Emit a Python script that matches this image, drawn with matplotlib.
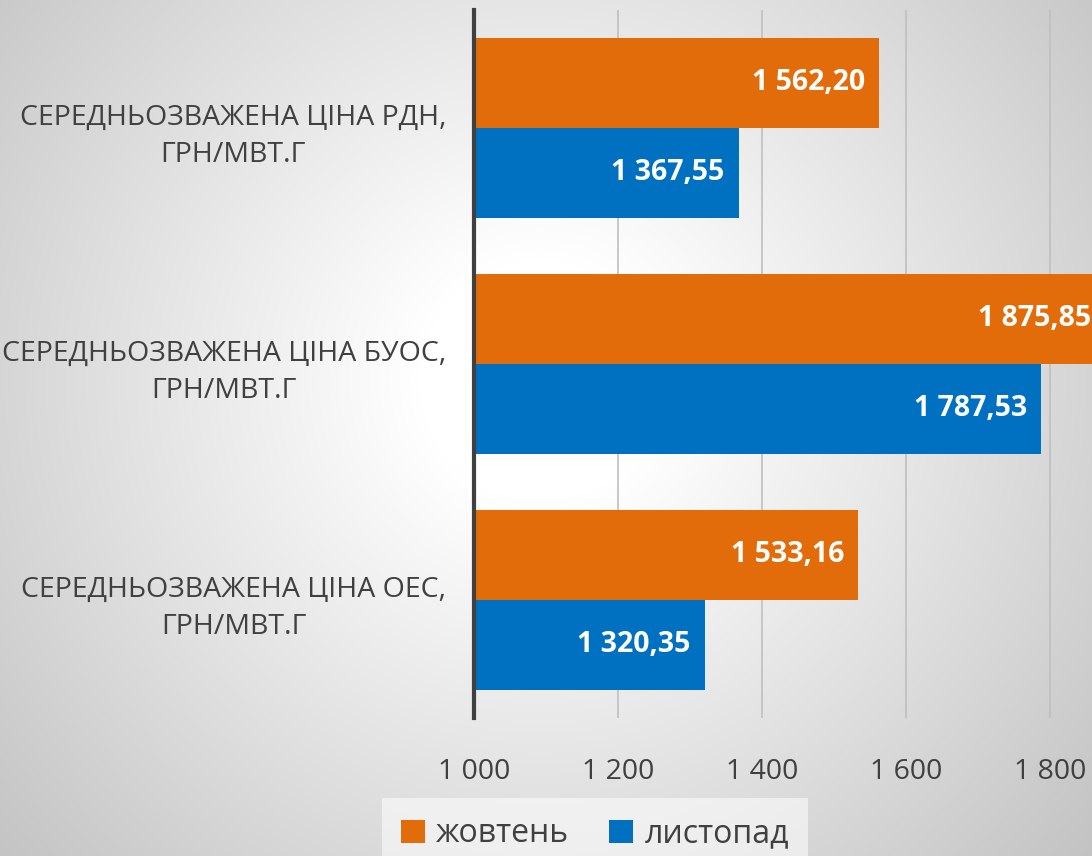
import numpy as np
import matplotlib
matplotlib.use("Agg")
import matplotlib.pyplot as plt
from matplotlib.patches import Patch

plt.rcParams['font.family'] = ['Open Sans', 'DejaVu Sans']

categories = ["СЕРЕДНЬОЗВАЖЕНА ЦІНА РДН,\nГРН/МВТ.Г",
              "СЕРЕДНЬОЗВАЖЕНА ЦІНА БУОС,\nГРН/МВТ.Г",
              "СЕРЕДНЬОЗВАЖЕНА ЦІНА ОЕС,\nГРН/МВТ.Г"]
series_names = ["жовтень", "листопад"]
october = [1562.20, 1875.85, 1533.16]
november = [1367.55, 1787.53, 1320.35]
x_ticks = [1000, 1200, 1400, 1600, 1800]
x_tick_labels = ["1 000", "1 200", "1 400", "1 600", "1 800"]

c_oct = "#E36C0A"
c_nov = "#0070C0"
txt = "#404040"

W, H = 1092, 856
fig = plt.figure(figsize=(W/100, H/100), dpi=100)

# radial gradient background
bg = fig.add_axes([0, 0, 1, 1], zorder=-10)
yy, xx = np.mgrid[0:H, 0:W]
cx, cy = 540, 380
r = np.sqrt((xx - cx) ** 2 + (yy - cy) ** 2)
t = np.clip((r - 120) / 620, 0, 1)
val = 1.0 - t * (1.0 - 0.76)
img = np.dstack([val, val, val])
bg.imshow(img, extent=[0, W, H, 0], aspect='auto', interpolation='bilinear')
bg.set_axis_off()

ax_left = 474 / W
ax_w = 720 / W
ax_bottom = (H - 718) / H
ax_h = 708 / H
ax = fig.add_axes([ax_left, ax_bottom, ax_w, ax_h])
ax.set_facecolor('none')

y = np.arange(len(categories))
bh = 90 / 236
ax.barh(y - bh / 2, [v - 1000 for v in october], left=1000, height=bh, color=c_oct, zorder=3)
ax.barh(y + bh / 2, [v - 1000 for v in november], left=1000, height=bh, color=c_nov, zorder=3)

def fmt(v):
    s = f"{v:,.2f}"
    return s.replace(",", " ").replace(".", ",")

for i in range(len(categories)):
    for v, off in ((october[i], -bh / 2), (november[i], bh / 2)):
        ax.annotate(fmt(v), xy=(v, y[i] + off), xytext=(-10, 0), textcoords='offset points',
                    ha='right', va='center', color='white', fontsize=20.5, fontweight='bold', zorder=4)

ax.set_xlim(1000, 2000)
ax.set_ylim(2.5, -0.5)
ax.set_xticks(x_ticks)
ax.set_xticklabels(x_tick_labels)
ax.set_yticks(y)
ax.set_yticklabels(categories, multialignment='center', linespacing=1.45)
ax.tick_params(axis='both', length=0, labelsize=20.5, labelcolor=txt)
ax.tick_params(axis='x', pad=29)
ax.tick_params(axis='y', pad=20)
ax.xaxis.grid(True, color='#BFBFBF', linewidth=1.2, zorder=0)
ax.set_axisbelow(True)
for s in ['top', 'right', 'bottom']:
    ax.spines[s].set_visible(False)
ax.spines['left'].set_color('#404040')
ax.spines['left'].set_linewidth(3)
ax.spines['left'].set_zorder(5)

handles = [Patch(facecolor=c_oct, label=series_names[0]), Patch(facecolor=c_nov, label=series_names[1])]
leg = fig.legend(handles=handles, loc='center', bbox_to_anchor=(595 / W, (H - 834) / H), ncol=2,
                 frameon=True, fontsize=23, handlelength=0.75, handleheight=0.75, handletextpad=0.35,
                 columnspacing=1.25, fancybox=False, borderpad=0.6)
for txtobj in leg.get_texts():
    txtobj.set_color(txt)
leg.get_frame().set_facecolor('white')
leg.get_frame().set_alpha(0.55)
leg.get_frame().set_linewidth(0)

fig.savefig("out.png", dpi=100)
